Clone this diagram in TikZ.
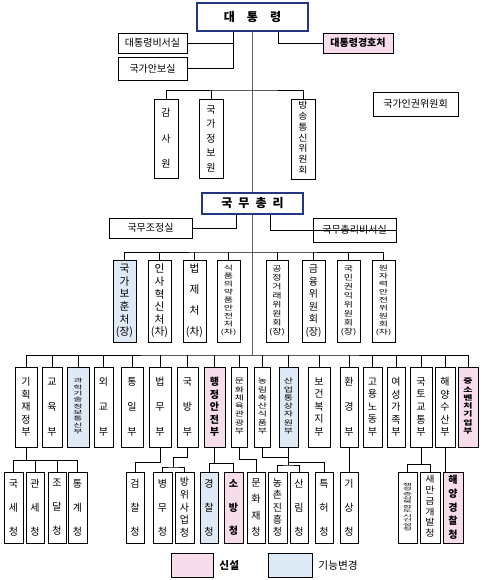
\documentclass[tikz,border=0pt]{standalone}
\usepackage{fontspec}
\setmainfont{Noto Sans CJK KR}
\usepackage{graphicx}
\usepackage{xcolor}
\usepackage{tikz}
\usetikzlibrary{calc, positioning}

\definecolor{pinkfill}{RGB}{247,221,236}
\definecolor{bluefill}{RGB}{222,234,246}
\definecolor{navyline}{RGB}{35,55,130}
\definecolor{trunkgray}{RGB}{95,95,95}

% chữ dọc bị ép theo chiều cao
\newcommand{\squish}[2]{\scalebox{1}[#1]{\lineskiplimit=0pt\begin{tabular}{@{}c@{}}#2\end{tabular}}}

\begin{document}
\setlength{\lineskiplimit}{-20pt}
\begin{tikzpicture}[x=0.75pt, y=-0.75pt,
    org/.style={draw, line width=0.6pt, inner sep=0pt, align=center, font=\fontsize{7.5}{9}\selectfont},
    sz/.style 2 args={minimum width=#1*0.75pt, minimum height=#2*0.75pt},
    vt/.style 2 args={font=\fontsize{#1}{#2}\selectfont},
    vtb/.style 2 args={font=\fontsize{#1}{#2}\selectfont\bfseries},
    new/.style={fill=pinkfill},
    chg/.style={fill=bluefill},
    head/.style={draw=navyline, line width=1.5pt, font=\fontsize{9}{11}\selectfont\bfseries},
    trunk/.style={line width=1.2pt, trunkgray},
    link/.style={line width=0.6pt}]
    \useasboundingbox[fill=white] (0,0) rectangle (481,580);

    % 1. Đại thống lĩnh và các cơ quan trực thuộc
    \node[org, head, sz={111}{28}] (pres) at (252.5,17) {대\quad 통\quad 령};
    \node[org, sz={69}{20}] (prsec) at (152.5,43) {대통령비서실};
    \node[org, sz={69}{23}] (nsoff) at (152.5,68.5) {국가안보실};
    \node[org, new, sz={70}{20}, font=\fontsize{7.5}{9}\selectfont\bfseries] (guard) at (358,43) {대통령경호처};

    \node[org, vt={7.5}{19.1}, sz={24}{79}] (audit) at (166,138.5) {감\\사\\원};
    \node[org, vt={7.5}{10.9}, sz={24}{79}] (nis) at (211,138.5) {국\\가\\정\\보\\원};
    \node[org, sz={24}{80}] (kcc) at (303,139) {\squish{0.9}{방\\송\\통\\신\\위\\원\\회}};
    \node[org, sz={85}{24}] (nhrc) at (415.5,104) {국가인권위원회};

    % 2. Thủ tướng
    \node[org, head, sz={101}{21}] (pm) at (252.5,203.5) {국\enspace 무\enspace 총\enspace 리};
    \node[org, sz={83}{20}] (opc) at (150.5,228) {국무조정실};
    \node[org, sz={83}{24}] (pmsec) at (354.5,230) {국무총리비서실};

    % 3. Các cơ quan cấp xứ, ủy ban
    \node[org, chg, vt={8}{9.45}, sz={23}{82}] (bohun) at (124.5,301) {국\\가\\보\\훈\\처\\(장)};
    \node[org, vt={8}{9.45}, sz={23}{82}] (insa) at (159.5,301) {인\\사\\혁\\신\\처\\(차)};
    \node[org, vt={8}{15.75}, sz={23}{82}] (moleg) at (194.5,301) {법\\제\\처\\(차)};
    \node[org, sz={23}{82}] (mfds) at (228.5,301) {\squish{0.66}{식\\품\\의\\약\\품\\안\\전\\처\\(차)}};
    \node[org, sz={22}{82}] (ftc) at (277,301) {\squish{0.75}{공\\정\\거\\래\\위\\원\\회\\(장)}};
    \node[org, vt={7.5}{9.45}, sz={23}{82}] (fsc) at (313.5,301) {금\\융\\위\\원\\회\\(장)};
    \node[org, sz={23}{82}] (acrc) at (348.5,301) {\squish{0.75}{국\\민\\권\\익\\위\\원\\회\\(장)}};
    \node[org, sz={23}{82}] (nssc) at (383.5,301) {\squish{0.66}{원\\자\\력\\안\\전\\위\\원\\회\\(차)}};

    % 4. Các bộ
    \node[org, vt={7.5}{9.4}, sz={22}{80}] (moef) at (26,407) {기\\획\\재\\정\\부};
    \node[org, vt={7.5}{18.75}, sz={20}{80}] (moe) at (52,407) {교\\육\\부};
    \node[org, chg, sz={22}{80}] (msit) at (78,407) {\squish{0.53}{과\\학\\기\\술\\정\\보\\통\\신\\부}};
    \node[org, vt={7.5}{18.75}, sz={19}{80}] (mofa) at (103.5,407) {외\\교\\부};
    \node[org, vt={7.5}{18.75}, sz={22}{80}] (unif) at (132,407) {통\\일\\부};
    \node[org, vt={7.5}{18.75}, sz={22}{80}] (moj) at (160,407) {법\\무\\부};
    \node[org, vt={7.5}{18.75}, sz={21}{80}] (mnd) at (187.5,407) {국\\방\\부};
    \node[org, new, vtb={7.5}{9.4}, sz={21}{80}] (mois) at (214.5,407) {행\\정\\안\\전\\부};
    \node[org, sz={16}{80}] (mcst) at (239.5,407) {\squish{0.69}{문\\화\\체\\육\\관\\광\\부}};
    \node[org, sz={16}{80}] (mafra) at (262.5,407) {\squish{0.69}{농\\림\\축\\산\\식\\품\\부}};
    \node[org, chg, sz={19}{80}] (motie) at (288.5,407) {\squish{0.69}{산\\업\\통\\상\\자\\원\\부}};
    \node[org, vt={7.5}{9.4}, sz={22}{80}] (mohw) at (319,407) {보\\건\\복\\지\\부};
    \node[org, vt={7.5}{18.75}, sz={18}{80}] (me) at (349,407) {환\\경\\부};
    \node[org, vt={7.5}{9.4}, sz={19}{80}] (moel) at (372.5,407) {고\\용\\노\\동\\부};
    \node[org, vt={7.5}{9.4}, sz={18}{80}] (mogef) at (396,407) {여\\성\\가\\족\\부};
    \node[org, vt={7.5}{9.4}, sz={22}{80}] (molit) at (421,407) {국\\토\\교\\통\\부};
    \node[org, vt={7.5}{9.4}, sz={20}{80}] (mof) at (445,407) {해\\양\\수\\산\\부};
    \node[org, new, vtb={7.5}{9}, sz={20}{80}] (mss) at (468,407) {\squish{0.69}{중\\소\\벤\\처\\기\\업\\부}};

    % 5. Các cục
    \node[org, vt={7.5}{18}, sz={19}{71}] (nts) at (13.5,507.5) {국\\세\\청};
    \node[org, vt={7.5}{18}, sz={18}{71}] (kcs) at (35,507.5) {관\\세\\청};
    \node[org, vt={7.5}{18}, sz={18}{71}] (pps) at (57,507.5) {조\\달\\청};
    \node[org, vt={7.5}{18}, sz={19}{71}] (kostat) at (77.5,507.5) {통\\계\\청};
    \node[org, vt={7.5}{18}, sz={18}{71}] (spo) at (135,507.5) {검\\찰\\청};
    \node[org, vt={7.5}{18}, sz={19}{71}] (mma) at (162.5,507.5) {병\\무\\청};
    \node[org, vt={7.5}{9.5}, sz={19}{71}] (dapa) at (184.5,507.5) {방\\위\\사\\업\\청};
    \node[org, chg, vt={7.5}{18}, sz={18}{71}] (knpa) at (209,507.5) {경\\찰\\청};
    \node[org, new, vtb={7.5}{17.6}, sz={19}{71}] (nfa) at (233.5,507.5) {소\\방\\청};
    \node[org, vt={7.5}{12.25}, sz={18}{71}] (cha) at (256,507.5) {문\\화\\재\\청};
    \node[org, vt={7.5}{9.2}, sz={19}{71}] (rda) at (277.5,507.5) {농\\촌\\진\\흥\\청};
    \node[org, vt={7.5}{18}, sz={18}{71}] (kfs) at (299,507.5) {산\\림\\청};
    \node[org, vt={7.5}{18}, sz={18}{71}] (kipo) at (324,507.5) {특\\허\\청};
    \node[org, vt={7.5}{18}, sz={18}{71}] (kma) at (349,507.5) {기\\상\\청};
    \node[org, sz={19}{71}] (macc) at (407.5,507.5) {\squish{0.37}{행\\정\\중\\심\\복\\합\\도\\시\\건\\설\\청}};
    \node[org, sz={20}{71}] (smg) at (430,507.5) {\squish{0.9}{새\\만\\금\\개\\발\\청}};
    \node[org, new, vtb={7.5}{10.3}, sz={20}{71}] (kcg) at (453,507.5) {해\\양\\경\\찰\\청};

    % 6. Chú thích
    \node[org, new, sz={42}{24}] (lnew) at (192,565) {};
    \node[right=1pt of lnew, font=\fontsize{8}{10}\selectfont\bfseries] (lnewtxt) {신설};
    \node[org, chg, sz={44}{24}] (lchg) at (290,565) {};
    \node[right=1pt of lchg, font=\fontsize{8}{10}\selectfont] (lchgtxt) {기능변경};

    % 7. Đường nối
    \coordinate (bar1) at (252.5,90);
    \coordinate (bar2) at (252.5,252);
    \coordinate (bar3) at (252.5,355);
    \draw[trunk] (pres.south) -- (pm.north);
    \draw[trunk] (pm.south) -- (bar3);

    \draw[link] ($(pres.south)+(-19.5,0)$) |- (prsec.east);
    \draw[link] ($(pres.south)+(-19.5,0)$) |- (nsoff.east);
    \draw[link] ($(pres.south)+(25.5,0)$) |- (guard.west);
    \draw[link] (audit.north) |- (bar1) -| (kcc.north);
    \draw[link] (nis.north) -- (nis.north |- bar1);

    \draw[link] ($(pm.south)+(-16.5,0)$) |- (opc.east);
    \draw[link] ($(pm.south)+(17.5,0)$) |- (pmsec.east);

    \draw[link] (bohun.north) |- (bar2) -| (nssc.north);
    \foreach \n in {insa, moleg, mfds, ftc, fsc, acrc}
      \draw[link] (\n.north) -- (\n.north |- bar2);

    \draw[link] (moef.north) |- (bar3) -| (mss.north);
    \foreach \n in {moe, msit, mofa, unif, moj, mnd, mois, mcst, mafra, motie, mohw, me, moel, mogef, molit, mof}
      \draw[link] (\n.north) -- (\n.north |- bar3);

    % bộ -> cục
    \draw[link] (moef.south) -- ++(0,14);
    \draw[link] (nts.north) -- ++(0,-11) -| (kostat.north);
    \draw[link] (kcs.north) -- ++(0,-11);
    \draw[link] (pps.north) -- ++(0,-11);
    \draw[link] (moj.south) -- ++(0,15) -| (spo.north);
    \coordinate (jmnd) at (173.5,467);
    \draw[link] (mnd.south) -- ++(0,10) -| (jmnd);
    \draw[link] (mma.north) |- (jmnd) -| (dapa.north);
    \draw[link] (mois.south) -- ++(0,17);
    \draw[link] (knpa.north) -- ++(0,-8) -| (nfa.north);
    \draw[link] (mcst.south) -- ++(0,12) -| (cha.north);
    \coordinate (jmafra) at (288.25,465);
    \draw[link] (mafra.south) -- ++(0,10) -| (jmafra);
    \draw[link] (rda.north) |- (jmafra) -| (kfs.north);
    \draw[link] (motie.south) -- ++(0,15) -| (kipo.north);
    \draw[link] (me.south) -- (kma.north);
    \draw[link] (molit.south) -- ++(0,18);
    \draw[link] (macc.north) -- ++(0,-7) -| (smg.north);
    \draw[link] (mof.south) -- (mof.south |- kcg.north);

\end{tikzpicture}
\end{document}
